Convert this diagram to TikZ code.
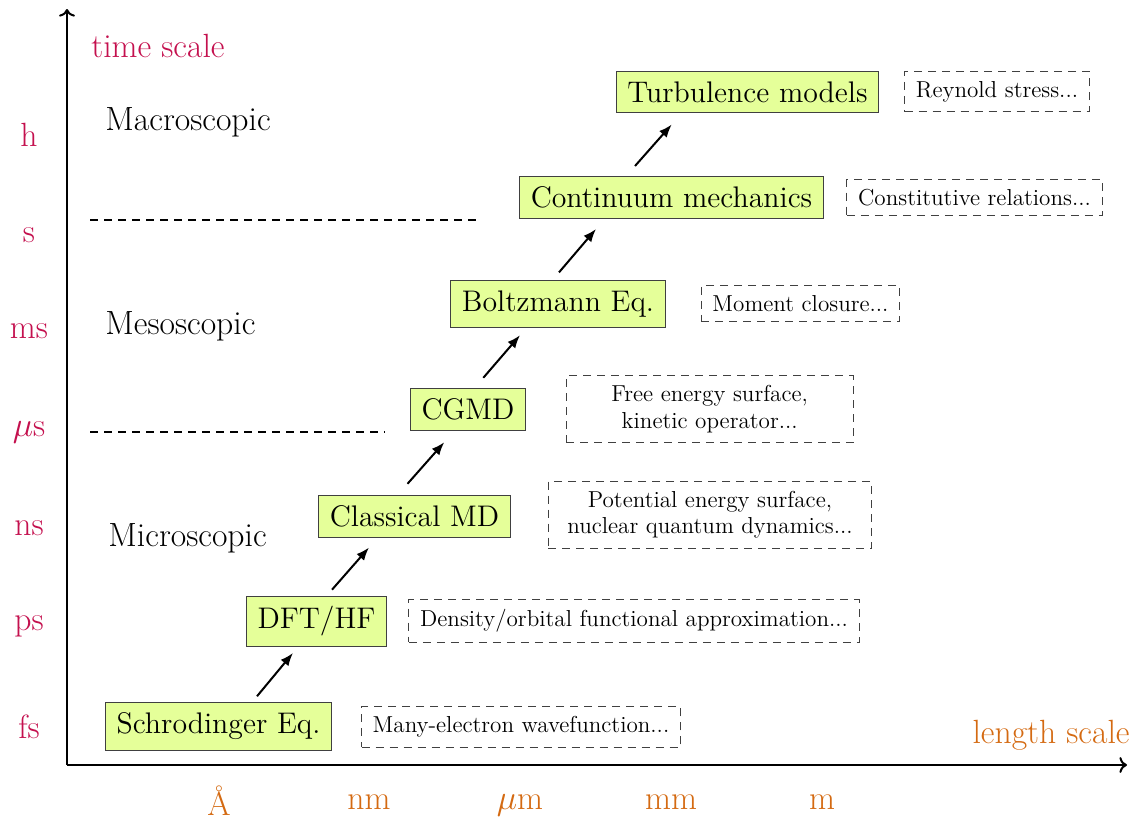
\documentclass[tikz,border=0pt]{standalone}
\usetikzlibrary{arrows.meta,calc}
\definecolor{timecol}{RGB}{196,16,78}
\definecolor{lencol}{RGB}{212,106,18}
\begin{document}
\begin{tikzpicture}[x=0.5pt,y=-0.5pt,
  bigfont/.style={font=\fontsize{16.8}{19}\selectfont},
  model/.style={draw=black!75,line width=0.5pt,fill=lime!40,
    inner xsep=5.6pt,inner ysep=5.1pt,font=\fontsize{14.9}{17}\selectfont},
  note/.style={draw=black!75,line width=0.5pt,dash pattern=on 4pt off 3pt,
    inner xsep=5.6pt,inner ysep=4.9pt,align=center,
    font=\fontsize{11.55}{13.2}\selectfont},
  axis/.style={line width=1pt,->},
  step arrow/.style={line width=1pt,-{Latex[length=6.5pt,width=5pt]}},
  divider/.style={line width=1pt,dash pattern=on 4pt off 3pt},
  tick/.style={bigfont,anchor=base,inner sep=0pt},
  regime/.style={bigfont,anchor=base west,inner sep=0pt},
]
\useasboundingbox (0,0) rectangle (1137,821);

% axes
\coordinate (O) at (67,765);
\coordinate (ytip) at (67,9);
\coordinate (xtip) at (1127,765);
\draw[axis] (O) -- (ytip);
\draw[axis] (O) -- (xtip);

\node[regime,text=timecol] (tlabel) at (91,57) {time scale};
\node[bigfont,anchor=base east,inner sep=0pt,text=lencol] (llabel) at (1130,743) {length scale};

% time ticks
\node[tick,text=timecol] (th)  at (29,146) {h};
\node[tick,text=timecol] (ts)  at (29,242) {s};
\node[tick,text=timecol] (tms) at (29,338) {ms};
\node[tick,text=timecol] (tus) at (29,436) {$\mu$s};
\node[tick,text=timecol] (tns) at (29,535) {ns};
\node[tick,text=timecol] (tps) at (29,630) {ps};
\node[tick,text=timecol] (tfs) at (29,738) {fs};

% length ticks
\node[tick,text=lencol] (lA)  at (219,815) {Å};
\node[tick,text=lencol] (lnm) at (369,809) {nm};
\node[tick,text=lencol] (lum) at (520,809) {$\mu$m};
\node[tick,text=lencol] (lmm) at (671,809) {mm};
\node[tick,text=lencol] (lm)  at (822,809) {m};

% regimes
\node[regime] (macro) at (105,130) {Macroscopic};
\node[regime] (meso)  at (105,334) {Mesoscopic};
\node[regime] (micro) at (108,546) {Microscopic};

\coordinate (d1a) at (90,220);  \coordinate (d1b) at (480,220);
\coordinate (d2a) at (90,432);  \coordinate (d2b) at (385,432);
\draw[divider] (d1a) -- (d1b);
\draw[divider] (d2a) -- (d2b);

% models
\node[model] (sch)   at (218.5,726.5) {Schrodinger Eq.};
\node[model] (dft)   at (316.5,621.3) {DFT/HF};
\node[model] (cmd)   at (414.5,516)   {Classical MD};
\node[model] (cgmd)  at (468,409.3)   {CGMD};
\node[model] (boltz) at (558,303.7)   {Boltzmann Eq.};
\node[model] (cont)  at (671.5,197.5) {Continuum mechanics};
\node[model] (turb)  at (747.5,92)    {Turbulence models};

% notes
\node[note] (n1) at (521,727)    {Many-electron wavefunction...};
\node[note] (n2) at (634,621)    {Density/orbital functional approximation...};
\node[note,minimum width=161.7pt] (n3) at (710,515)  {Potential energy surface,\\nuclear quantum dynamics...};
\node[note,minimum width=143.5pt] (n4) at (709.7,409.2)  {Free energy surface,\\kinetic operator...};
\node[note] (n5) at (800.5,303.5) {Moment closure...};
\node[note] (n6) at (974.5,197.5) {Constitutive relations...};
\node[note] (n7) at (997,91.5)   {Reynold stress...};

% hierarchy arrows
\draw[step arrow] ($(sch.north)+(38.5,-6)$)  -- ($(dft.south)+(-23.5,6)$);
\draw[step arrow] ($(dft.north)+(15.5,-6)$)  -- ($(cmd.south)+(-45.5,10)$);
\draw[step arrow] ($(cmd.north)+(-7,-10.7)$) -- ($(cgmd.south)+(-23.7,11.4)$);
\draw[step arrow] ($(cgmd.north)+(15.3,-10)$) -- ($(boltz.south)+(-38,7.6)$);
\draw[step arrow] ($(boltz.north)+(1,-7.4)$) -- ($(cont.south)+(-75.5,10)$);
\draw[step arrow] ($(cont.north)+(-36.5,-10)$) -- ($(turb.south)+(-75.8,11.3)$);
\end{tikzpicture}
\end{document}
